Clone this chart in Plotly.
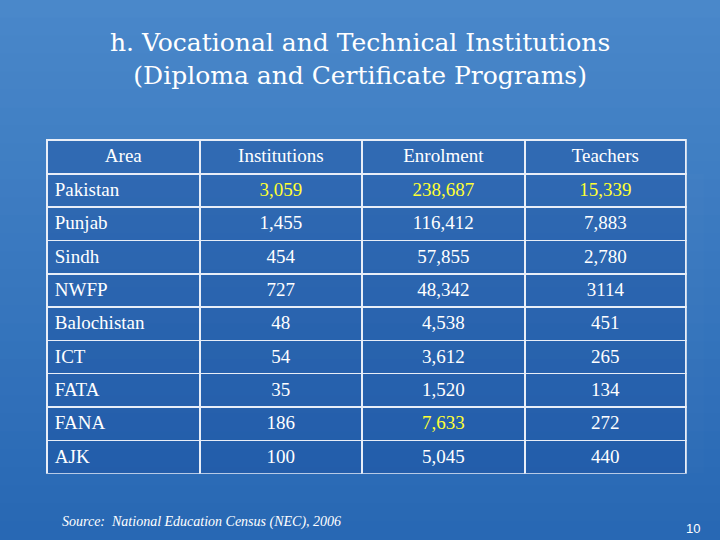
import plotly.graph_objects as go

headers = ["Area", "Institutions", "Enrolment", "Teachers"]
areas = ["Pakistan", "Punjab", "Sindh", "NWFP", "Balochistan", "ICT", "FATA", "FANA", "AJK"]
institutions = ["3,059", "1,455", "454", "727", "48", "54", "35", "186", "100"]
enrolment = ["238,687", "116,412", "57,855", "48,342", "4,538", "3,612", "1,520", "7,633", "5,045"]
teachers = ["15,339", "7,883", "2,780", "3114", "451", "265", "134", "272", "440"]
highlight = {("Institutions", "3,059"), ("Enrolment", "238,687"), ("Teachers", "15,339"), ("Enrolment", "7,633")}

cols = [areas, institutions, enrolment, teachers]
names = headers
colors = [["#ffff33" if (names[j], v) in highlight else "white" for v in cols[j]] for j in range(4)]

fig = go.Figure()
n = 30
top = (74, 136, 202); bot = (40, 104, 180)
for i in range(n):
    t = i / (n - 1)
    c = tuple(int(top[k] + (bot[k] - top[k]) * t) for k in range(3))
    fig.add_shape(type="rect", xref="paper", yref="paper", x0=0, x1=1,
                  y0=1 - (i + 1) / n, y1=1 - i / n + 0.001, line_width=0,
                  fillcolor="rgb(%d,%d,%d)" % c, layer="below")

fig.add_trace(go.Table(
    domain=dict(x=[0.065, 0.953], y=[0.122, 0.741]),
    columnwidth=[153, 162, 163, 161],
    header=dict(values=headers, align="center",
                font=dict(family="Liberation Serif", size=19, color="white"), height=34,
                fill_color="rgba(20,70,150,0.35)", line=dict(color="#e8eef8", width=1.5)),
    cells=dict(values=cols, align=["left", "center", "center", "center"],
               font=dict(family="Liberation Serif", size=19, color=colors), height=33.3,
               fill_color="rgba(20,70,150,0.35)", line=dict(color="#e8eef8", width=1.5)),
))

fig.add_annotation(x=0.5, y=0.89, xref="paper", yref="paper", showarrow=False, yanchor="middle",
                   text="h. Vocational and Technical Institutions<br>(Diploma and Certificate Programs)",
                   font=dict(family="DejaVu Serif", size=25, color="white"))
fig.add_annotation(x=0.083, y=0.033, xref="paper", yref="paper", showarrow=False, xanchor="left",
                   yanchor="middle",
                   text="<i>Source:  National Education Census (NEC), 2006</i>",
                   font=dict(family="Liberation Serif", size=14, color="white"))
fig.add_annotation(x=0.975, y=0.022, xref="paper", yref="paper", showarrow=False, xanchor="right",
                   yanchor="middle",
                   text="10", font=dict(family="Liberation Sans", size=13, color="white"))

fig.update_layout(width=720, height=540, margin=dict(l=0, r=0, t=0, b=0),
                  paper_bgcolor="rgb(50,115,190)", plot_bgcolor="rgba(0,0,0,0)")
fig.write_html("out.html", config={"displayModeBar": False},
               post_script="document.body.style.margin='0';")
